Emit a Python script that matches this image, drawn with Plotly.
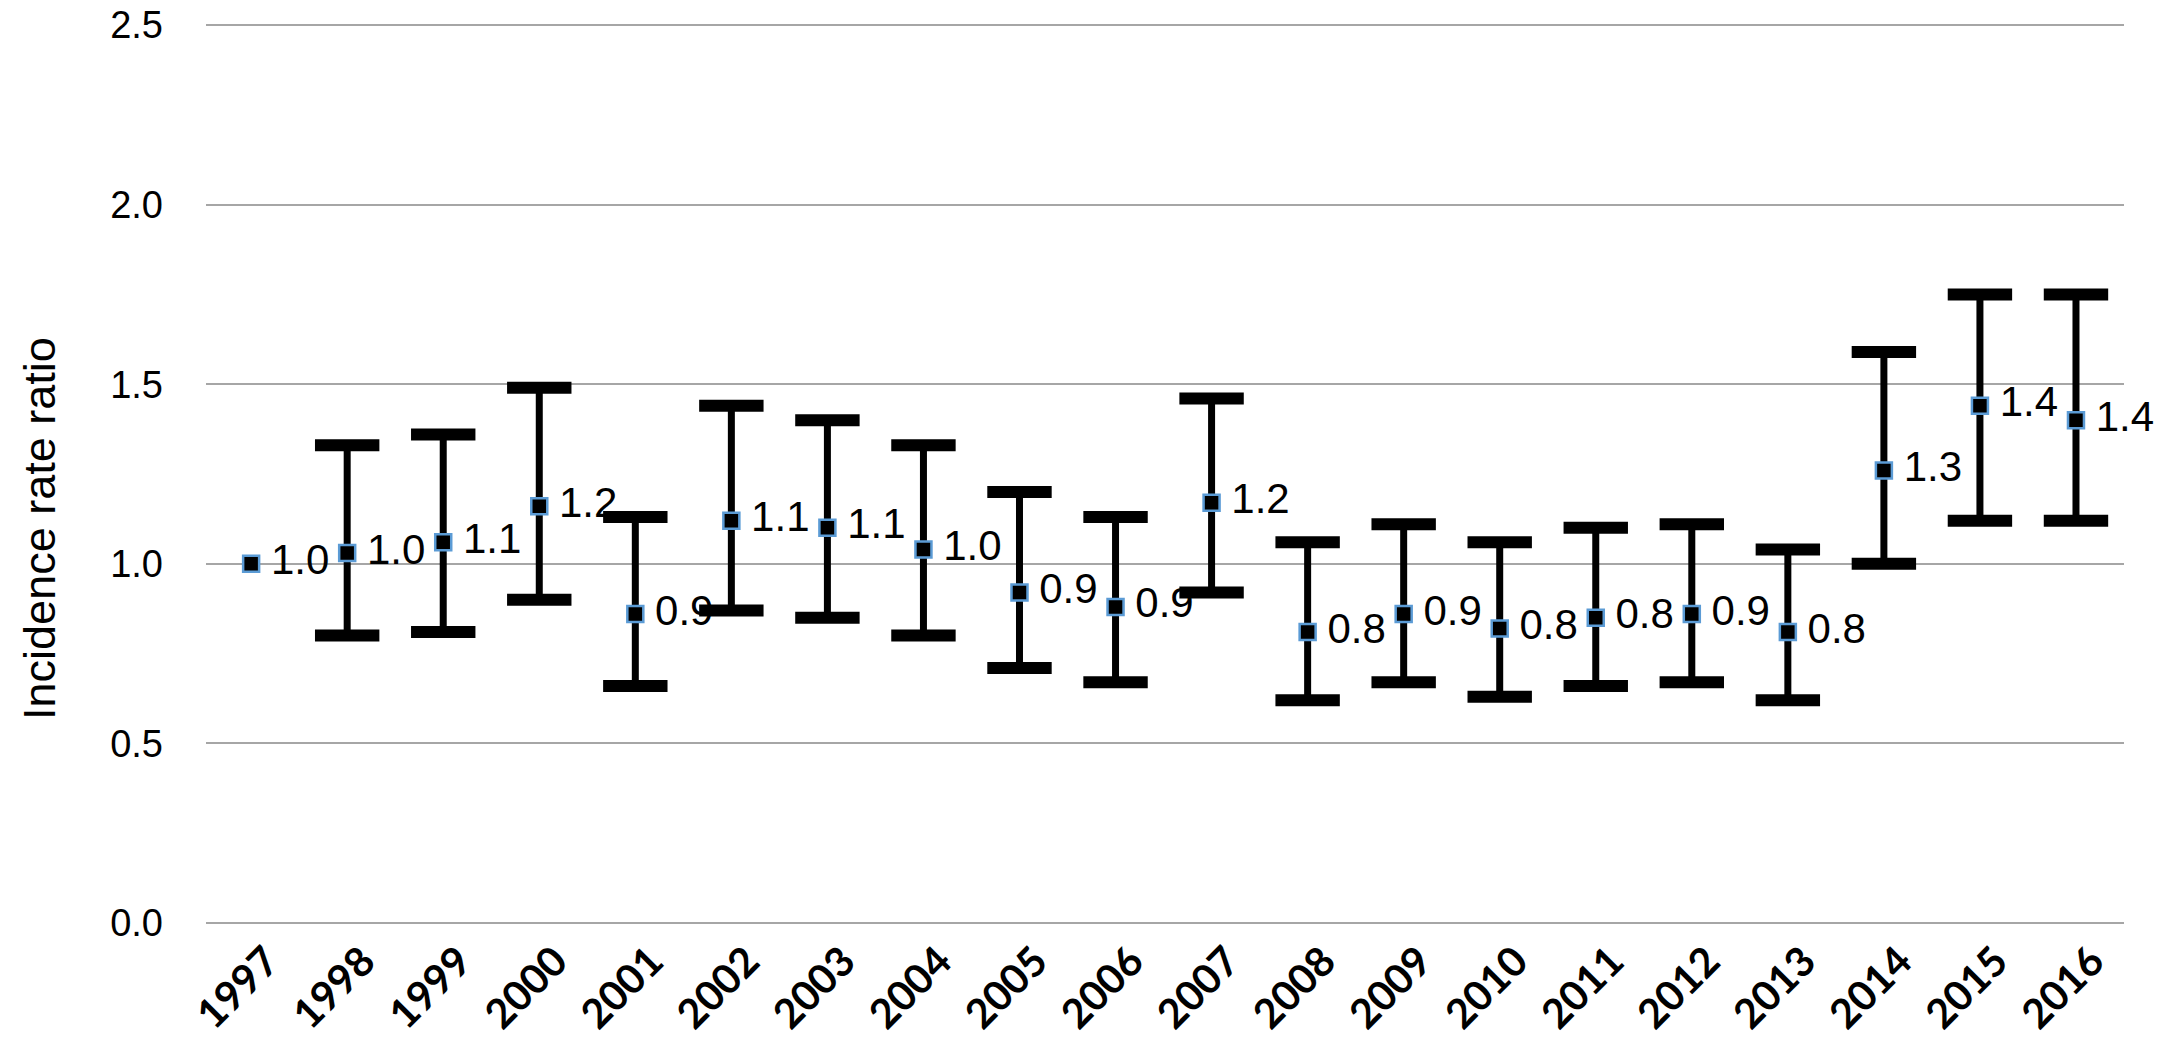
import plotly.graph_objects as go

years = [str(y) for y in range(1997, 2017)]
irr = [1.00, 1.03, 1.06, 1.16, 0.86, 1.12, 1.10, 1.04, 0.92, 0.88,
       1.17, 0.81, 0.86, 0.82, 0.85, 0.86, 0.81, 1.26, 1.44, 1.40]
upper = [None, 1.33, 1.36, 1.49, 1.13, 1.44, 1.40, 1.33, 1.20, 1.13,
         1.46, 1.06, 1.11, 1.06, 1.10, 1.11, 1.04, 1.59, 1.75, 1.75]
lower = [None, 0.80, 0.81, 0.90, 0.66, 0.87, 0.85, 0.80, 0.71, 0.67,
         0.92, 0.62, 0.67, 0.63, 0.66, 0.67, 0.62, 1.00, 1.12, 1.12]
y_ticks = [0.0, 0.5, 1.0, 1.5, 2.0, 2.5]

err_plus = [(u - v) if u is not None else 0 for u, v in zip(upper, irr)]
err_minus = [(v - l) if l is not None else 0 for l, v in zip(lower, irr)]

cap_x = [x for x, u in zip(years, upper) if u is not None] + \
        [x for x, l in zip(years, lower) if l is not None]
cap_y = [u for u in upper if u is not None] + [l for l in lower if l is not None]

fig = go.Figure()

# stems
fig.add_trace(go.Scatter(
    x=years, y=irr, mode="markers",
    marker=dict(size=1, color="rgba(0,0,0,0)"),
    error_y=dict(type="data", symmetric=False, array=err_plus, arrayminus=err_minus,
                 thickness=7, width=0, color="black"),
    hoverinfo="skip", showlegend=False,
))

# caps
fig.add_trace(go.Scatter(
    x=cap_x, y=cap_y, mode="markers",
    marker=dict(symbol="line-ew", size=46, line=dict(width=12, color="black"), color="black"),
    hoverinfo="skip", showlegend=False,
))

# labels (invisible larger marker to offset text)
fig.add_trace(go.Scatter(
    x=years, y=irr, mode="text+markers",
    marker=dict(size=30, color="rgba(0,0,0,0)"),
    text=[f"{v:.1f}" for v in irr],
    textposition="middle right",
    textfont=dict(family="Liberation Sans, Arial, sans-serif", size=42, color="black"),
    cliponaxis=False, hoverinfo="skip", showlegend=False,
))

# points
fig.add_trace(go.Scatter(
    x=years, y=irr, mode="markers",
    marker=dict(symbol="square", size=16, color="black", line=dict(width=2.5, color="#5B9BD5")),
    showlegend=False,
))

fig.update_layout(
    width=2181, height=1042,
    margin=dict(l=206, r=57, t=24, b=118),
    plot_bgcolor="white", paper_bgcolor="white",
    showlegend=False,
    xaxis=dict(
        type="category", range=[-0.47, 19.5],
        showgrid=False, zeroline=False, showline=False,
        tickangle=-45, automargin=False,
        tickfont=dict(family="Lato, Liberation Sans, sans-serif", size=41, color="black", weight="bold"),
        ticks="", ticklabelstandoff=4, ticklabelshift=16,
        ticklabeloverflow="allow",
    ),
    yaxis=dict(
        range=[-0.003, 2.503], tickvals=y_ticks,
        ticktext=[f"{v:.1f}" for v in y_ticks],
        showgrid=True, gridcolor="#a6a6a6", gridwidth=2,
        zeroline=False, showline=False, ticks="", automargin=False,
        tickfont=dict(family="Liberation Sans, Arial, sans-serif", size=38, color="black"),
        ticklabelstandoff=42, ticklabeloverflow="allow",
    ),
    annotations=[dict(
        text="Incidence rate ratio", textangle=-90,
        xref="paper", yref="paper", x=-0.0871, y=0.44,
        xanchor="center", yanchor="middle", showarrow=False,
        font=dict(family="Liberation Sans, Arial, sans-serif", size=45, color="black"),
    )],
)

fig.write_html("out.html", config={"displayModeBar": False},
               post_script="document.body.style.margin='0';")
